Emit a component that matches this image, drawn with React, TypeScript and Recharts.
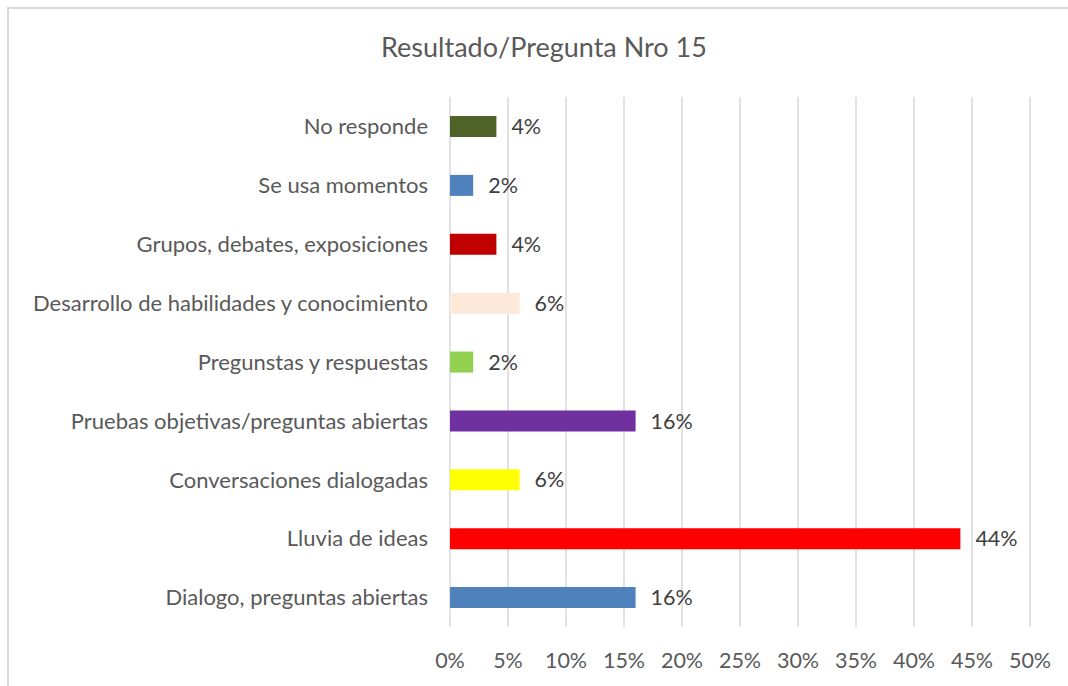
import React from "react";
import { BarChart, Bar, XAxis, YAxis, CartesianGrid, Cell, LabelList } from "recharts";

const CATEGORIES = [
    "No responde",
    "Se usa momentos",
    "Grupos, debates, exposiciones",
    "Desarrollo de habilidades y conocimiento",
    "Pregunstas y respuestas",
    "Pruebas objetivas/preguntas abiertas",
    "Conversaciones dialogadas",
    "Lluvia de ideas",
    "Dialogo, preguntas abiertas",
];

const VALUES = [4, 2, 4, 6, 2, 16, 6, 44, 16];

const BAR_COLORS = ["#4f6228", "#4f81bd", "#c00000", "#fde9d9", "#92d050", "#7030a0", "#ffff00", "#ff0000", "#4f81bd"];

const X_TICKS = [0, 5, 10, 15, 20, 25, 30, 35, 40, 45, 50];

const FONT = "Lato, 'Open Sans', sans-serif";

export default function App() {
    const data = CATEGORIES.map((name, i) => ({ name, value: VALUES[i] }));

    return (
        <div style={{ position: "absolute", left: 0, top: 0, width: 1068, height: 686, background: "#fff", overflow: "hidden", fontFamily: FONT }}>
            <div style={{ position: "absolute", left: 7, top: 7, width: 1061, height: 679, borderLeft: "2px solid #d9d9d9", borderTop: "2px solid #d9d9d9", boxSizing: "border-box" }} />
            <div style={{ position: "absolute", left: 0, width: 1088, top: 30, textAlign: "center", fontSize: 27, color: "#595959" }}>
                Resultado/Pregunta Nro 15
            </div>
            <div style={{ position: "absolute", left: 0, top: 0 }}>
                <BarChart
                    width={1068}
                    height={686}
                    data={data}
                    layout="vertical"
                    margin={{ top: 97, right: 38, bottom: 19, left: 0 }}
                    barCategoryGap={0}
                >
                    <CartesianGrid horizontal={false} stroke="#d9d9d9" strokeWidth={1.5} />
                    <XAxis
                        type="number"
                        domain={[0, 50]}
                        ticks={X_TICKS}
                        tickFormatter={(v) => `${v}%`}
                        axisLine={false}
                        tickLine={false}
                        tickMargin={20}
                        height={40}
                        tick={{ fill: "#595959", fontSize: 21.5, fontFamily: FONT }}
                        interval={0}
                    />
                    <YAxis
                        type="category"
                        dataKey="name"
                        width={450}
                        axisLine={false}
                        tickLine={false}
                        tickMargin={16}
                        tick={{ fill: "#595959", fontSize: 22, fontFamily: FONT }}
                        interval={0}
                    />
                    <Bar dataKey="value" barSize={21} isAnimationActive={false}>
                        {data.map((_, index) => (
                            <Cell key={`cell-${index}`} fill={BAR_COLORS[index]} />
                        ))}
                        <LabelList
                            dataKey="value"
                            position="right"
                            offset={15}
                            formatter={(v: any) => `${v}%`}
                            style={{ fill: "#404040", fontSize: 21.5, fontFamily: FONT }}
                        />
                    </Bar>
                </BarChart>
            </div>
        </div>
    );
}
